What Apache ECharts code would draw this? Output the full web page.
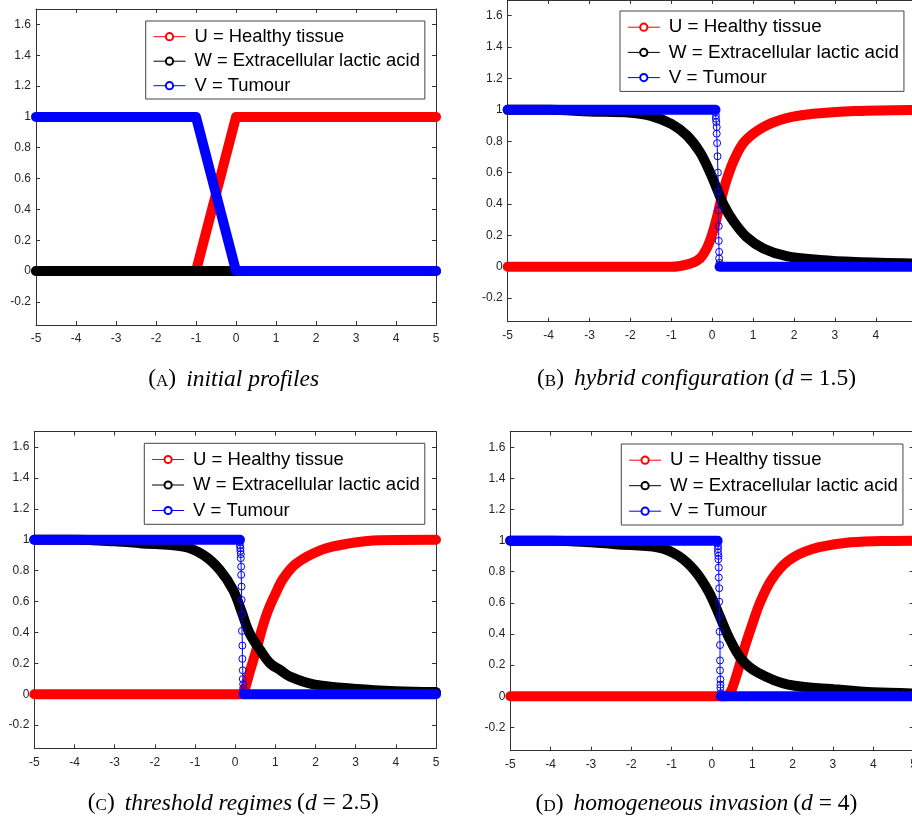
<!DOCTYPE html>
<html><head><meta charset="utf-8">
<script src="https://cdn.jsdelivr.net/npm/echarts@6/dist/echarts.min.js"></script>
<style>html,body{margin:0;padding:0;background:#fff}#c{width:912px;height:818px}</style>
</head><body><div id="c"></div>
<script>
// ---------- tick labels / names ----------
const xTicks = [-5,-4,-3,-2,-1,0,1,2,3,4,5];
const yTicks = [-0.2,0,0.2,0.4,0.6,0.8,1,1.2,1.4,1.6];
const legendNames = ['U = Healthy tissue','W = Extracellular lactic acid','V = Tumour'];
const captionLetters = ['A','B','C','D'];
const captionTitles = ['initial profiles','hybrid configuration','threshold regimes','homogeneous invasion'];
const captionD = [null,'1.5','2.5','4'];

// ---------- (A) initial profiles ----------
const uA = [[-5,0],[-1,0],[0,1],[5,1]];
const wA = [[-5,0],[5,0]];
const vA = [[-5,1],[-1,1],[0,0],[5,0]];

// ---------- (B) d = 1.5 ----------
const uB = [[-5,0],[-1,0],[-0.54,0.02],[-0.3,0.053],[-0.135,0.117],[-0.01,0.2],[0.1,0.3],[0.22,0.43],[0.36,0.56],[0.55,0.69],[0.8,0.8],[1.25,0.89],[1.82,0.947],[2.47,0.975],[3.5,0.993],[5,1]];
const wB = [[-5,1],[-4,1],[-3,0.99],[-2,0.982],[-1.5,0.962],[-1,0.91],[-0.62,0.837],[-0.3,0.73],[-0.05,0.6],[0.11,0.5],[0.3,0.385],[0.52,0.29],[0.84,0.19],[1.25,0.117],[1.82,0.068],[2.64,0.043],[3.5,0.03],[5,0.02]];
const vB_plateau = [[-5,1],[0.08,1]];
const vB_front = [[0.08,1],[0.08,0.985],[0.09,0.964],[0.09,0.943],[0.1,0.922],[0.11,0.89],[0.11,0.848],[0.12,0.788],[0.13,0.704],[0.14,0.6],[0.15,0.477],[0.15,0.36],[0.16,0.259],[0.16,0.165],[0.17,0.095],[0.17,0.053],[0.18,0.025],[0.18,0.005]];
const vB_tail = [[0.18,0],[5,0]];

// ---------- (C) d = 2.5 ----------
const uC = [[-5,0],[0.2,0],[0.24,0.03],[0.37,0.15],[0.52,0.28],[0.66,0.416],[0.8,0.53],[0.97,0.632],[1.2,0.75],[1.53,0.848],[2.15,0.935],[2.8,0.975],[3.6,0.997],[5,1]];
const wC = [[-5,1],[-4,1],[-3,0.99],[-2.37,0.978],[-1.29,0.956],[-0.79,0.902],[-0.38,0.805],[-0.05,0.675],[0.16,0.535],[0.35,0.4],[0.62,0.287],[0.87,0.2],[1.12,0.157],[1.37,0.114],[1.95,0.064],[3.03,0.034],[4,0.02],[5,0.015]];
const vC_plateau = [[-5,1],[0.12,1]];
const vC_front = [[0.12,1],[0.12,0.985],[0.12,0.962],[0.13,0.945],[0.13,0.928],[0.14,0.907],[0.14,0.881],[0.15,0.826],[0.15,0.773],[0.16,0.697],[0.16,0.611],[0.17,0.518],[0.17,0.41],[0.18,0.315],[0.18,0.229],[0.19,0.155],[0.19,0.099],[0.2,0.065],[0.2,0.039],[0.2,0.015]];
const vC_tail = [[0.21,0],[5,0]];

// ---------- (D) d = 4 ----------
const uD = [[-5,0],[0.3,0],[0.4,0.01],[0.49,0.043],[0.654,0.172],[0.82,0.322],[0.985,0.451],[1.19,0.6],[1.48,0.75],[1.89,0.87],[2.47,0.945],[3.3,0.985],[4.2,0.997],[5,1]];
const wD = [[-5,1],[-4,1],[-3,0.99],[-2.4,0.977],[-1.33,0.956],[-0.83,0.902],[-0.42,0.805],[-0.09,0.676],[0.157,0.537],[0.405,0.386],[0.738,0.236],[1.15,0.15],[1.89,0.075],[3.13,0.043],[4,0.025],[5,0.018]];
const vD_plateau = [[-5,1],[0.14,1]];
const vD_front = [[0.14,1],[0.14,0.985],[0.15,0.966],[0.15,0.945],[0.15,0.924],[0.16,0.902],[0.16,0.88],[0.17,0.827],[0.17,0.763],[0.18,0.694],[0.18,0.608],[0.19,0.515],[0.19,0.415],[0.2,0.329],[0.2,0.23],[0.2,0.166],[0.21,0.108],[0.21,0.075],[0.21,0.054],[0.22,0.02]];
const vD_tail = [[0.22,0],[5,0]];

// ---------- layout / styles ----------
const RED = '#ff0000', BLACK = '#000000', BLUE = '#0000ff';
const AXIS = '#333333', LABEL = '#262626';
const layout = [
  {grid:{left:36, top:9, width:400, height:316}, legend:{left:145.7, top:21, fs:18.4, gap:6.5}, cap:{x:233.7, y:377}},
  {grid:{left:507.7, top:0, width:409, height:321.7}, legend:{left:620, top:11, fs:18.8, gap:6.2}, cap:{x:696.5, y:376.7}},
  {grid:{left:34.3, top:431.7, width:401.7, height:316.6}, legend:{left:144.3, top:443.3, fs:18.5, gap:6.5}, cap:{x:233.3, y:801}},
  {grid:{left:510.3, top:431.7, width:403.3, height:319}, legend:{left:621.3, top:444, fs:18.6, gap:6.5}, cap:{x:696.5, y:801.7}}
];
const panelData = [
  {u:uA, w:wA, vParts:[vA], front:null},
  {u:uB, w:wB, vParts:[vB_plateau, vB_tail], front:vB_front},
  {u:uC, w:wC, vParts:[vC_plateau, vC_tail], front:vC_front},
  {u:uD, w:wD, vParts:[vD_plateau, vD_tail], front:vD_front}
];

function xAx(i, pos, show){
  return {type:'value', gridIndex:i, position:pos, min:-5, max:5, interval:1,
    axisLine:{show:true, onZero:false, lineStyle:{color:AXIS, width:1}},
    axisTick:{show:true, inside:true, length:4, lineStyle:{color:AXIS, width:1}},
    axisLabel:{show:show, margin:8, fontSize:12, color:LABEL, fontFamily:'Liberation Sans'},
    splitLine:{show:false}};
}
function yAx(i, pos, show){
  return {type:'value', gridIndex:i, position:pos, min:-0.35, max:1.7,
    axisLine:{show:true, onZero:false, lineStyle:{color:AXIS, width:1}},
    axisTick:{show:true, inside:true, length:4, customValues:yTicks, lineStyle:{color:AXIS, width:1}},
    axisLabel:{show:show, margin:5, fontSize:12, color:LABEL, fontFamily:'Liberation Sans', customValues:yTicks},
    splitLine:{show:false}};
}
function band(i, data, color, smooth){
  return {type:'line', xAxisIndex:2*i, yAxisIndex:2*i, data:data, symbol:'none', showSymbol:false,
    clip:false, silent:true, smooth:smooth, animation:false,
    lineStyle:{width:10, color:color, cap:'round', join:'round'}};
}
function front(i, data){
  return {type:'line', xAxisIndex:2*i, yAxisIndex:2*i, data:data, symbol:'circle', symbolSize:7,
    showSymbol:true, showAllSymbol:true, clip:false, silent:true, animation:false,
    lineStyle:{width:1, color:BLUE},
    itemStyle:{color:'rgba(0,0,0,0)', borderColor:BLUE, borderWidth:1}};
}

const grids=[], xAxes=[], yAxes=[], series=[], legends=[], titles=[];
const serif = 'Liberation Serif';
layout.forEach((L,i)=>{
  grids.push(Object.assign({containLabel:false, outerBoundsMode:'none'}, L.grid));
  xAxes.push(xAx(i,'bottom',true), xAx(i,'top',false));
  yAxes.push(yAx(i,'left',true), yAx(i,'right',false));
  const P = panelData[i];
  const sm = i>0 ? 0.35 : false;
  series.push(band(i, P.u, RED, sm));
  series.push(band(i, P.w, BLACK, sm));
  series.push(band(i, P.vParts[0], BLUE, false));
  if (P.front) series.push(front(i, P.front));
  if (P.vParts[1]) series.push(band(i, P.vParts[1], BLUE, false));
  legends.push({left:L.legend.left, top:L.legend.top, orient:'vertical', selectedMode:false,
    itemWidth:32, itemHeight:9, itemGap:L.legend.gap, padding:[6.7,5,4.3,7.3],
    borderColor:'#444', borderWidth:1, backgroundColor:'#fff', borderRadius:0,
    lineStyle:{width:1}, itemStyle:{borderWidth:1},
    textStyle:{fontSize:L.legend.fs, color:'#000', fontFamily:'Liberation Sans', padding:[0,0,0,4]},
    data:legendNames});
  let txt = '{p|(}{sc|' + captionLetters[i] + '}{p|)}  {i|' + captionTitles[i] + '}';
  if (captionD[i]) txt += ' {p|(}{i|d}{p| = ' + captionD[i] + ')}';
  titles.push({text:txt, left:L.cap.x, top:L.cap.y, textAlign:'center', textVerticalAlign:'middle', padding:0,
    textStyle:{fontWeight:'normal', rich:{
      p:{fontFamily:serif, fontSize:23.5, fontWeight:'normal', color:'#000', lineHeight:28, verticalAlign:'bottom'},
      sc:{fontFamily:serif, fontSize:17, fontWeight:'normal', color:'#000', lineHeight:28, verticalAlign:'bottom', padding:[0,0,1,0]},
      i:{fontFamily:serif, fontStyle:'italic', fontWeight:'normal', fontSize:23.5, color:'#000', lineHeight:28, verticalAlign:'bottom'}
    }}});
});
// legend-only series (thin line with open circle marker)
[RED, BLACK, BLUE].forEach((c,k)=>{
  series.push({type:'line', name:legendNames[k], xAxisIndex:0, yAxisIndex:0, data:[],
    symbol:'emptyCircle', symbolSize:7, lineStyle:{width:1, color:c}, itemStyle:{color:c, borderWidth:1}, animation:false});
});

const chart = echarts.init(document.getElementById('c'), null, {renderer:'canvas'});
chart.setOption({animation:false, backgroundColor:'#fff', grid:grids, xAxis:xAxes, yAxis:yAxes,
  series:series, legend:legends, title:titles, tooltip:{show:false}});
</script></body></html>
